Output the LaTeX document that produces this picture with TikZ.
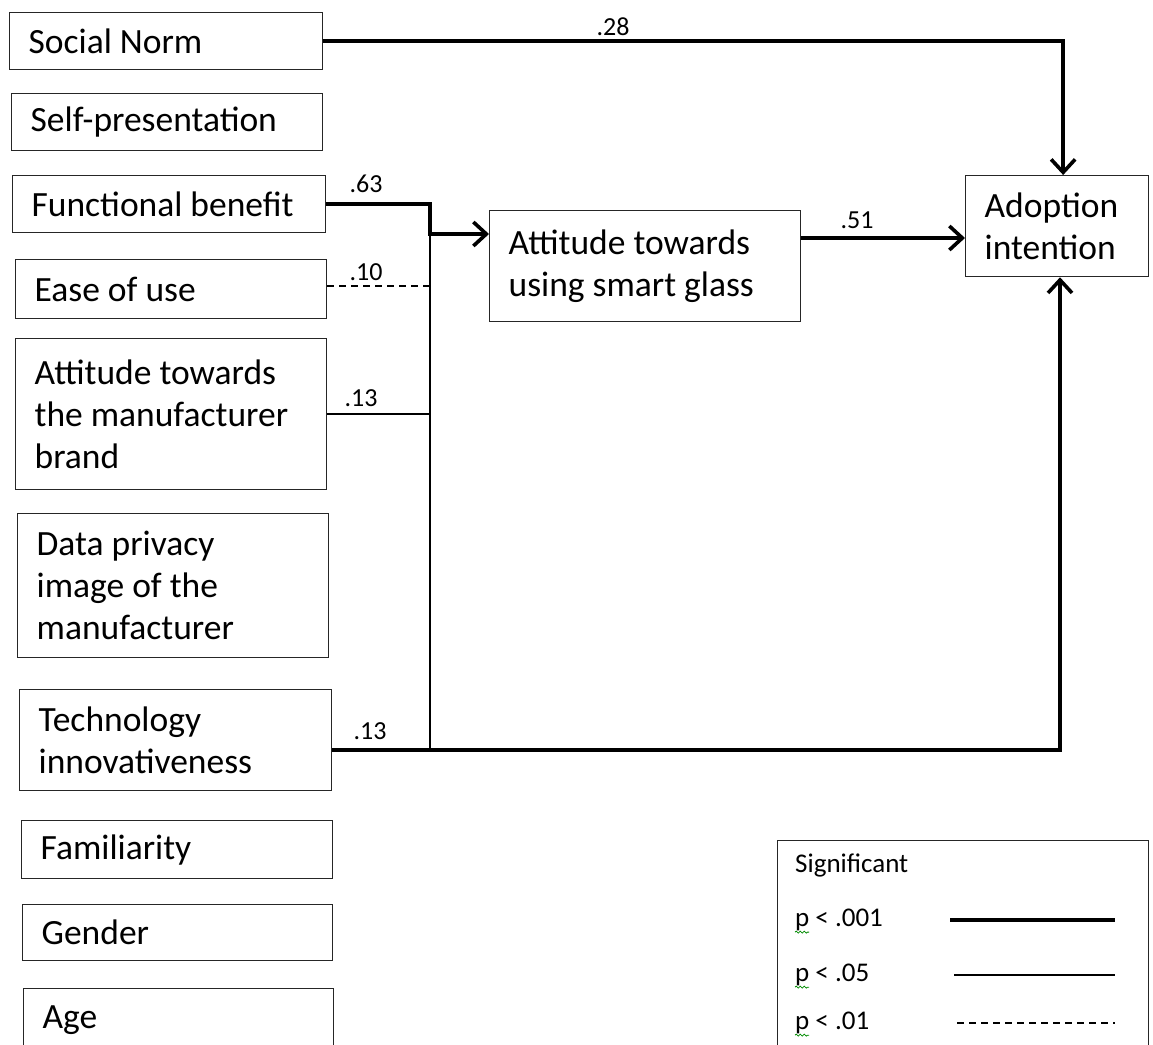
\documentclass[tikz,border=0pt]{standalone}
\usepackage{fontspec}
\setmainfont{Carlito}
\usetikzlibrary{arrows.meta,decorations.pathmorphing}
\begin{document}
\begin{tikzpicture}[x=1pt,y=-1pt,
  box/.style={draw=black!85, line width=1.3pt, anchor=north west, inner xsep=19pt,
    inner ysep=0pt, align=left, font=\fontsize{35.5}{42}\selectfont,
    execute at begin node={\spaceskip=0.226em plus 0.1em\relax}},
  strong/.style={line width=3.6pt, line join=miter},
  weak/.style={line width=1.4pt},
  weakdash/.style={line width=1.4pt, dash pattern=on 7pt off 5pt},
  tip/.style={-{Straight Barb[length=13pt,width=24pt]}},
  coef/.style={font=\fontsize{26}{30}\selectfont},
  lgd/.style={font=\fontsize{27}{30}\selectfont, anchor=west, inner sep=0pt},
  squiggle/.style={draw=green!55!black, line width=0.8pt,
    decorate, decoration={snake, segment length=4pt, amplitude=1pt}},
]
\clip (0,0) rectangle (1153,1044);
\fill[white] (0,0) rectangle (1153,1044);

% predictor boxes
\node[box, text width=275pt, minimum height=57pt] (sn) at (9,12) {Social Norm};
\node[box, text width=273pt, minimum height=57pt] (sp) at (11,93) {Self-presentation};
\node[box, text width=275pt, minimum height=57pt] (fb) at (12,175) {Functional benefit};
\node[box, text width=273pt, minimum height=59pt] (eu) at (15,259) {Ease of use};
\node[box, text width=273pt, minimum height=151pt] (ab) at (15,338)
  {Attitude towards\\the manufacturer\\brand};
\node[box, text width=273pt, minimum height=144pt] (dp) at (17,513)
  {Data privacy\\image of the\\manufacturer};
\node[box, text width=274pt, minimum height=101pt] (ti) at (19,689)
  {Technology\\innovativeness};
\node[box, text width=273pt, minimum height=58pt] (fa) at (21,820) {Familiarity};
\node[box, text width=272pt, minimum height=56pt] (ge) at (22,904) {Gender};
\node[box, text width=272pt, minimum height=62pt] (ag) at (23,988) {Age};

% mediator and outcome
\node[box, text width=273pt, minimum height=111pt] (att) at (489,210)
  {Attitude towards\\using smart glass\\[14pt]};
\node[box, text width=145pt, minimum height=101pt] (ai) at (965,175)
  {Adoption\\intention};

% routing points
\coordinate (jtop) at (430,234);
\coordinate (jbot) at (430,750);
\coordinate (rbot) at (1060,750);
\coordinate (aa) at (880,238);

% paths
\draw[strong, tip] (sn.east) -| ([xshift=6pt]ai.north);
\draw[strong, tip] (fb.east) -| (jtop) -- (jtop -| att.west);
\draw[weakdash] ([yshift=3pt]eu.east) -- ([yshift=3pt]eu.east -| jtop);
\draw[weak] (ab.east) -- (ab.east -| jtop);
\draw[weak] (jtop) -- (jbot);
\draw[strong, tip] (ti.east |- rbot) -- (rbot) -- (rbot |- ai.south);
\draw[strong, tip] (aa -| att.east) -- (aa -| ai.west);

% coefficients
\node[coef] (c1) at (613,27) {.28};
\node[coef] (c2) at (366,184) {.63};
\node[coef] (c3) at (366,272) {.10};
\node[coef] (c4) at (361,398) {.13};
\node[coef] (c5) at (370,731) {.13};
\node[coef] (c6) at (857,220) {.51};

% legend
\node[draw=black!85, line width=1.3pt, anchor=north west, minimum width=371pt,
  minimum height=215pt, inner sep=0pt] (lg) at (777,840) {};
\node[lgd] (l0) at (795,865) {Significant};
\node[lgd] (l1) at (795,920) {p < .001};
\node[lgd] (l2) at (795,975) {p < .05};
\node[lgd] (l3) at (795,1023) {p < .01};
\path[squiggle] ([yshift=-1pt]l1.south west) -- ++(14,0);
\path[squiggle] ([yshift=-1pt]l2.south west) -- ++(14,0);
\path[squiggle] ([yshift=-1pt]l3.south west) -- ++(14,0);
\coordinate (s1) at (950,920);
\coordinate (e1) at (1115,920);
\coordinate (s2) at (954,975);
\coordinate (e2) at (1115,975);
\coordinate (s3) at (957,1023);
\coordinate (e3) at (1115,1023);
\draw[strong] (s1) -- (e1);
\draw[weak] (s2) -- (e2);
\draw[weakdash] (s3) -- (e3);
\end{tikzpicture}
\end{document}
